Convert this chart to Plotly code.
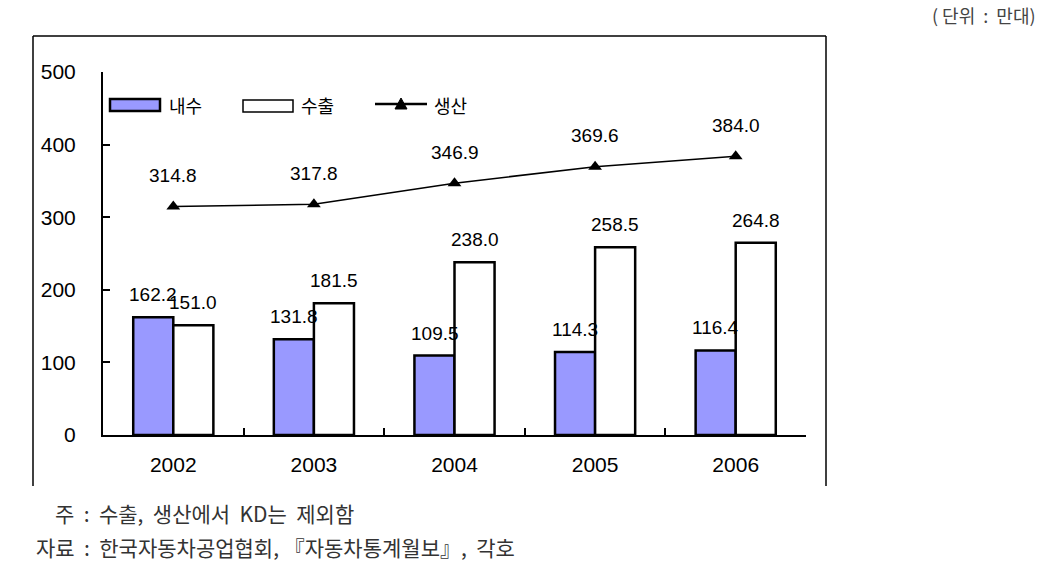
import plotly.graph_objects as go

# ---- data ----
years = ["2002", "2003", "2004", "2005", "2006"]
domestic = [162.2, 131.8, 109.5, 114.3, 116.4]   # 내수
export = [151.0, 181.5, 238.0, 258.5, 264.8]     # 수출
production = [314.8, 317.8, 346.9, 369.6, 384.0] # 생산
y_ticks = [0, 100, 200, 300, 400, 500]

W, H = 1039, 579
L, R, T, B = 103, 806, 72, 435  # plot area in pixels

def xp(px):
    return (px - L) / (R - L)

def yp(py):
    return (B - py) / (B - T)

NUM_FONT = "Liberation Sans, Arial, sans-serif"
KR_FONT = "Noto Sans CJK KR, sans-serif"
NB = "\u00a0"

fig = go.Figure()
fig.add_trace(go.Bar(x=years, y=domestic, name="내수",
                     marker=dict(color="#9999FF", line=dict(color="black", width=2.5)),
                     showlegend=False))
fig.add_trace(go.Bar(x=years, y=export, name="수출",
                     marker=dict(color="white", line=dict(color="black", width=2.5)),
                     showlegend=False))
fig.add_trace(go.Scatter(x=years, y=production, name="생산", mode="lines+markers",
                         line=dict(color="black", width=1.5),
                         marker=dict(symbol="triangle-up", size=12, color="black"),
                         showlegend=False))

ann = []
for i, yr in enumerate(years):
    ann.append(dict(x=i, y=domestic[i], xref="x", yref="y", text=f"{domestic[i]:.1f}",
                    showarrow=False, yanchor="bottom", xshift=-20, yshift=10,
                    font=dict(family=NUM_FONT, size=19, color="black")))
    ann.append(dict(x=i, y=export[i], xref="x", yref="y", text=f"{export[i]:.1f}",
                    showarrow=False, yanchor="bottom", xshift=20, yshift=10,
                    font=dict(family=NUM_FONT, size=19, color="black")))
    ann.append(dict(x=i, y=production[i], xref="x", yref="y", text=f"{production[i]:.1f}",
                    showarrow=False, yanchor="middle", yshift=31,
                    font=dict(family=NUM_FONT, size=19, color="black")))

# manual legend texts
for txt, px in [("내수", 167), ("수출", 299), ("생산", 432)]:
    ann.append(dict(x=xp(px), y=yp(105), xref="paper", yref="paper", text=txt,
                    showarrow=False, xanchor="left", yanchor="middle",
                    font=dict(family=KR_FONT, size=18, color="black")))

# unit and notes
ann.append(dict(x=xp(1038), y=yp(15), xref="paper", yref="paper",
                text=f"({NB}단위{NB}{NB}:{NB}{NB}만대)",
                showarrow=False, xanchor="right", yanchor="middle",
                font=dict(family=KR_FONT, size=18, color="#444")))
ann.append(dict(x=xp(53), y=yp(513), xref="paper", yref="paper",
                text=f"주{NB}{NB}:{NB}{NB}수출,{NB}{NB}생산에서{NB}{NB}KD는{NB}{NB}제외함",
                showarrow=False, xanchor="left", yanchor="middle",
                font=dict(family=KR_FONT, size=21, color="#333")))
ann.append(dict(x=xp(34), y=yp(547), xref="paper", yref="paper",
                text=f"자료{NB}{NB}:{NB}{NB}한국자동차공업협회,{NB}『자동차통계월보』,{NB}{NB}각호",
                showarrow=False, xanchor="left", yanchor="middle",
                font=dict(family=KR_FONT, size=21, color="#333")))

shapes = []
# frame (left, top, right)
for x0, y0, x1, y1 in [(33, 36, 33, 486), (33, 36, 826, 36), (826, 36, 826, 486)]:
    shapes.append(dict(type="line", xref="paper", yref="paper",
                       x0=xp(x0), y0=yp(y0), x1=xp(x1), y1=yp(y1),
                       line=dict(color="black", width=1.5)))
# legend swatches
shapes.append(dict(type="rect", xref="paper", yref="paper", x0=xp(110), x1=xp(160),
                   y0=yp(111), y1=yp(99), fillcolor="#9999FF", line=dict(color="black", width=2.5)))
shapes.append(dict(type="rect", xref="paper", yref="paper", x0=xp(243), x1=xp(293),
                   y0=yp(112), y1=yp(100), fillcolor="white", line=dict(color="black", width=1.5)))
shapes.append(dict(type="line", xref="paper", yref="paper", x0=xp(375), x1=xp(427),
                   y0=yp(104), y1=yp(104), line=dict(color="black", width=2.5)))
shapes.append(dict(type="path", xref="paper", yref="paper",
                   path=f"M {xp(395)} {yp(109)} L {xp(407)} {yp(109)} L {xp(401)} {yp(98)} Z",
                   fillcolor="black", line=dict(color="black", width=1)))

fig.update_layout(
    width=W, height=H,
    margin=dict(l=L, r=W - R, t=T, b=H - B),
    paper_bgcolor="white", plot_bgcolor="white",
    barmode="group", bargap=0.43, bargroupgap=0,
    annotations=ann, shapes=shapes,
    xaxis=dict(type="category", range=[-0.5, len(years) - 0.5], autorange=False,
               showline=True, linecolor="black", linewidth=2,
               ticks="inside", tickson="boundaries", ticklen=7, tickwidth=2, tickcolor="black",
               tickfont=dict(family=NUM_FONT, size=21, color="black"), tickangle=0,
               ticklabelstandoff=10, showgrid=False, zeroline=False),
    yaxis=dict(range=[0, 500], tickvals=y_ticks, showline=True, linecolor="black", linewidth=2,
               ticks="inside", ticklen=7, tickwidth=2, tickcolor="black",
               tickfont=dict(family=NUM_FONT, size=21, color="black"),
               ticklabelstandoff=21, showgrid=False, zeroline=False),
)

fig.write_html("out.html")
